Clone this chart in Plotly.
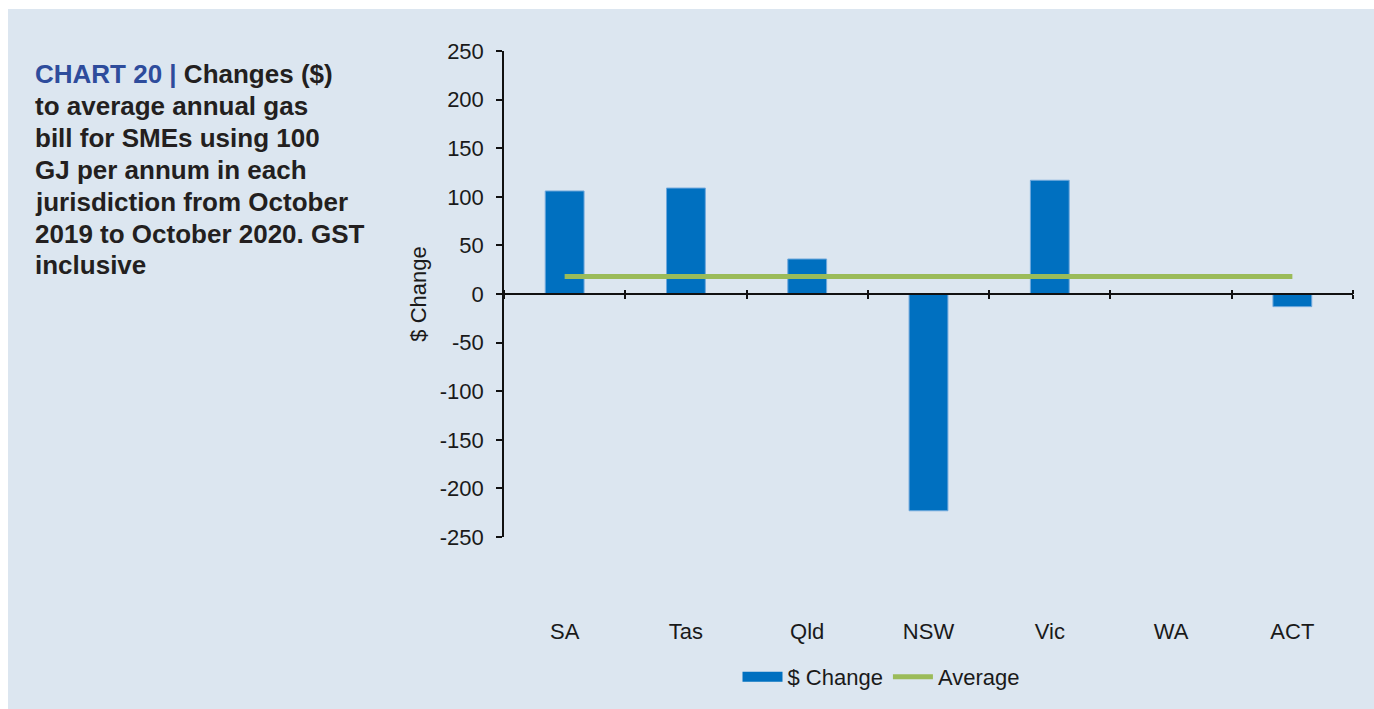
import plotly.graph_objects as go

categories = ["SA", "Tas", "Qld", "NSW", "Vic", "WA", "ACT"]
change_values = [106, 109, 36, -223, 117, 0, -13]
average_values = [18, 18, 18, 18, 18, 18, 18]
y_tick_values = [-250, -200, -150, -100, -50, 0, 50, 100, 150, 200, 250]
y_tick_labels = ["-250", "-200", "-150", "-100", "-50", "0", "50", "100", "150", "200", "250"]
title_lines = [
    "<span style='color:#2e4c9c'>CHART 20 |</span> Changes ($)",
    "to average annual gas",
    "bill for SMEs using 100",
    "GJ per annum in each",
    "jurisdiction from October",
    "2019 to October 2020. GST",
    "inclusive",
]

FONT = "Liberation Sans, Arial, Helvetica, sans-serif"
BG = "#dce6f0"
TXT = "#1a1a1a"
BAR = "#0070c0"
AVG = "#9bbb59"

fig = go.Figure()
fig.add_trace(go.Bar(
    x=categories, y=change_values, name="$ Change",
    marker=dict(color=BAR, line=dict(color="#6fa8dc", width=1)),
    width=0.32, xaxis="x", yaxis="y", showlegend=False,
))
# legend entry drawn as a wide bar swatch
fig.add_trace(go.Scatter(
    x=[None], y=[None], name="$ Change", mode="lines",
    line=dict(color=BAR, width=12), xaxis="x", yaxis="y",
))
fig.add_trace(go.Scatter(
    x=categories, y=average_values, name="Average", mode="lines",
    line=dict(color=AVG, width=5), xaxis="x2", yaxis="y",
))

# plot area (page px): left 504, top 51, right 1353, bottom 538
L, T, R, B = 504, 51, 1353, 538
W, H = 1374, 709

def px_x(p):
    return (p - L) / (R - L)

def px_y(p):
    return (B - p) / (B - T)

annotations = []
for i, line in enumerate(title_lines):
    annotations.append(dict(
        text="<b>" + line + "</b>", xref="paper", yref="paper",
        x=px_x(33), y=px_y(57.5 + 31.9 * i), xanchor="left", yanchor="top",
        align="left", showarrow=False,
        font=dict(family=FONT, size=26, color="#231f20"),
    ))

fig.update_layout(
    width=W, height=H,
    margin=dict(l=L, r=W - R, t=T, b=H - B),
    paper_bgcolor=BG, plot_bgcolor="rgba(0,0,0,0)",
    font=dict(family=FONT, size=22, color=TXT),
    xaxis=dict(
        type="category", categoryarray=categories, range=[-0.5, 6.5],
        anchor="free", position=0.5,
        showline=True, linecolor="#111111", linewidth=1.5,
        ticks="outside", ticklen=4, tickwidth=1.5, tickcolor="#111111",
        tickson="boundaries", showgrid=False, zeroline=False,
        ticklabelstandoff=318, tickfont=dict(size=22, color=TXT),
    ),
    xaxis2=dict(
        type="category", categoryarray=categories, range=[-0.5, 6.5],
        overlaying="x", anchor="free", position=0.5, side="top",
        showline=False, ticks="outside", ticklen=4, tickwidth=1.5,
        tickcolor="#111111", tickson="boundaries", showticklabels=False,
        showgrid=False, zeroline=False,
    ),
    yaxis=dict(
        range=[-250, 250], tickvals=y_tick_values, ticktext=y_tick_labels,
        showline=True, linecolor="#111111", linewidth=1.5,
        ticks="outside", ticklen=6, tickwidth=1.5, tickcolor="#111111",
        showgrid=False, zeroline=False, ticklabelstandoff=8,
        tickfont=dict(size=22, color=TXT),
        title=dict(text="$ Change", standoff=7, font=dict(size=22, color=TXT)),
    ),
    legend=dict(
        orientation="h", x=px_x(881), xanchor="center", y=px_y(677), yanchor="middle",
        font=dict(size=22, color=TXT), bgcolor="rgba(0,0,0,0)",
        itemwidth=40, tracegroupgap=0,
    ),
    showlegend=True,
    annotations=annotations,
    shapes=[
        # white page border at the top and left
        dict(type="rect", xref="paper", yref="paper", x0=px_x(-10), x1=px_x(W + 10),
             y0=px_y(9), y1=px_y(-10), fillcolor="white", line=dict(width=0), layer="below"),
        dict(type="rect", xref="paper", yref="paper", x0=px_x(-10), x1=px_x(8),
             y0=px_y(H + 10), y1=px_y(-10), fillcolor="white", line=dict(width=0), layer="below"),
    ],
)

fig.write_html(
    "out.html",
    config={"displayModeBar": False},
    post_script="document.body.style.margin='0';document.body.style.overflow='hidden';",
)
